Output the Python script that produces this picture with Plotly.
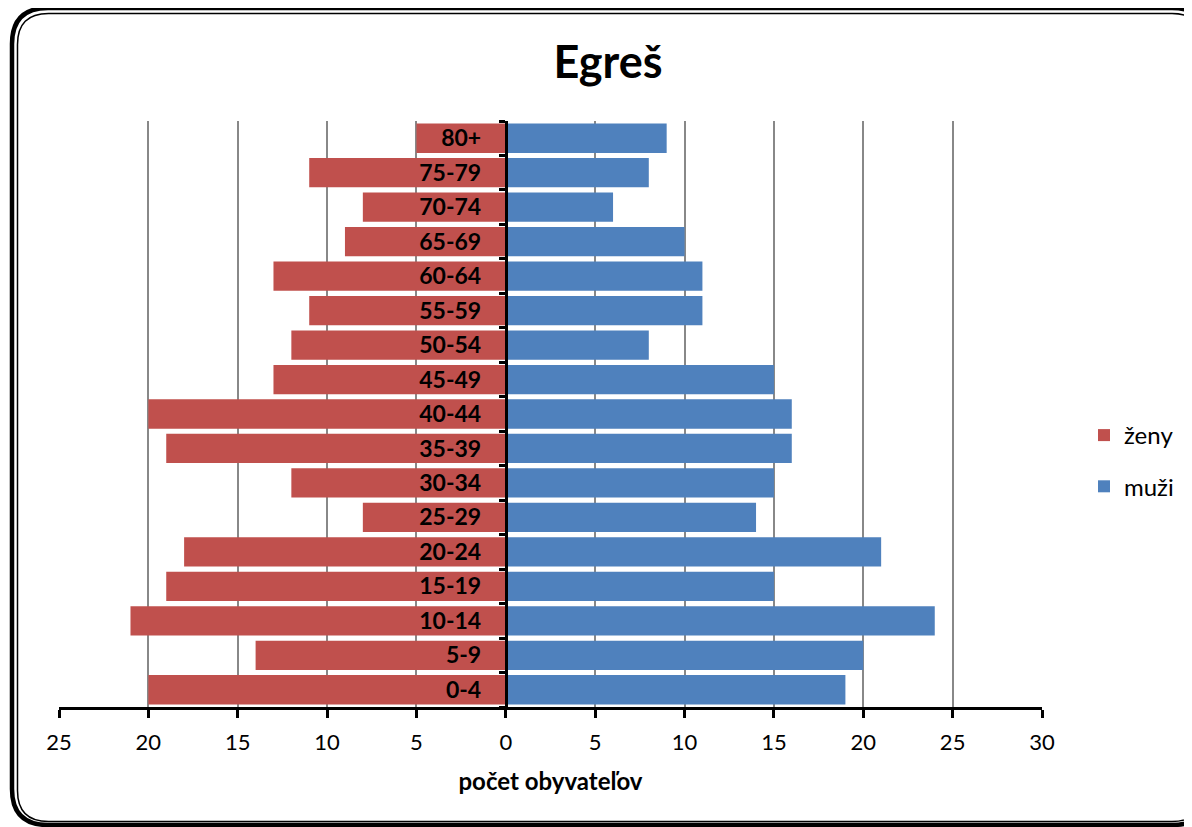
import plotly.graph_objects as go

# ---- data ----
age_groups = ["0-4", "5-9", "10-14", "15-19", "20-24", "25-29", "30-34", "35-39",
              "40-44", "45-49", "50-54", "55-59", "60-64", "65-69", "70-74", "75-79", "80+"]
women = [20, 14, 21, 19, 18, 8, 12, 19, 20, 13, 12, 11, 13, 9, 8, 11, 5]
men = [19, 20, 24, 15, 21, 14, 15, 16, 16, 15, 8, 11, 11, 10, 6, 8, 9]
x_tickvals = [-25, -20, -15, -10, -5, 0, 5, 10, 15, 20, 25, 30]
x_ticktext = ["25", "20", "15", "10", "5", "0", "5", "10", "15", "20", "25", "30"]
title_text = "Egreš"
x_title = "počet obyvateľov"
name_women = "ženy"
name_men = "muži"

# page body margin offset (figure is drawn 8px from the window corner)
OFF = 8
W, H = 1192 - OFF, 827 - OFF
# plot area in reference (window) pixels
PL, PR, PT, PB = 59, 1042, 121, 707
ML, MR, MT, MB = PL - OFF, W - (PR - OFF), PT - OFF, H - (PB - OFF)
FONT = "Lato"
RED = "#C0504D"
BLUE = "#4F81BD"

fig = go.Figure()
fig.add_trace(go.Bar(
    y=age_groups, x=[-v for v in women], orientation="h", name=name_women,
    marker=dict(color=RED, line=dict(width=0)), legendgroup="z",
))
fig.add_trace(go.Bar(
    y=age_groups, x=men, orientation="h", name=name_men,
    marker=dict(color=BLUE, line=dict(width=0)), legendgroup="m",
))

xmin, xmax = -25, 30
pw = PR - PL
ph = PB - PT


def px2paper(px, py):
    # px, py in window pixels
    return (px - PL) / pw, (PB - py) / ph


def rrect(x0, y0, x1, y1, r):
    def P(x, y):
        a, b = px2paper(x, y)
        return f"{a:.5f},{b:.5f}"
    return (f"M{P(x0 + r, y0)} L{P(x1 - r, y0)} Q{P(x1, y0)} {P(x1, y0 + r)} "
            f"L{P(x1, y1 - r)} Q{P(x1, y1)} {P(x1 - r, y1)} "
            f"L{P(x0 + r, y1)} Q{P(x0, y1)} {P(x0, y1 - r)} "
            f"L{P(x0, y0 + r)} Q{P(x0, y0)} {P(x0 + r, y0)} Z")


shapes = [
    dict(type="path", xref="paper", yref="paper", path=rrect(12, 8, 1208, 825, 36),
         line=dict(color="black", width=4.5), layer="above"),
    dict(type="path", xref="paper", yref="paper", path=rrect(17.5, 13.5, 1203, 821.5, 31),
         line=dict(color="black", width=1.5), layer="above"),
]

fig.update_layout(
    width=W, height=H,
    margin=dict(l=ML, r=MR, t=MT, b=MB, pad=0),
    paper_bgcolor="white", plot_bgcolor="white",
    barmode="relative", bargap=0.15,
    font=dict(family=FONT, color="black", size=20),
    title=dict(text=title_text, x=(608 - OFF) / W, xref="container", xanchor="center",
               y=1 - (62 - OFF) / H, yref="container", yanchor="middle",
               font=dict(family=FONT, size=45, weight="bold", color="black")),
    xaxis=dict(
        range=[xmin, xmax], tickvals=x_tickvals, ticktext=x_ticktext,
        showgrid=True, gridcolor="#888888", gridwidth=1.5,
        zeroline=False, showline=True, linecolor="black", linewidth=3,
        ticks="outside", ticklen=8, tickwidth=3, tickcolor="black",
        ticklabelstandoff=6,
        tickfont=dict(family=FONT, size=22, color="black"),
        title=dict(text=x_title, standoff=19,
                   font=dict(family=FONT, size=24, weight="bold", color="black")),
        fixedrange=True,
    ),
    yaxis=dict(
        type="category", categoryorder="array", categoryarray=age_groups,
        anchor="free", position=(0 - xmin) / (xmax - xmin),
        showline=True, linecolor="black", linewidth=3,
        ticks="outside", tickson="boundaries", ticklen=6, tickwidth=3, tickcolor="black",
        ticklabelstandoff=19,
        showgrid=False, zeroline=False,
        tickfont=dict(family=FONT, size=23, weight="bold", color="black"),
        fixedrange=True,
    ),
    legend=dict(
        x=(1084 - PL) / pw, xanchor="left", y=(PB - 461) / ph, yanchor="middle",
        traceorder="grouped", tracegroupgap=17,
        font=dict(family=FONT, size=24, color="black"),
        bgcolor="rgba(0,0,0,0)",
    ),
    showlegend=True,
    shapes=shapes,
)

fig.write_html("out.html")
